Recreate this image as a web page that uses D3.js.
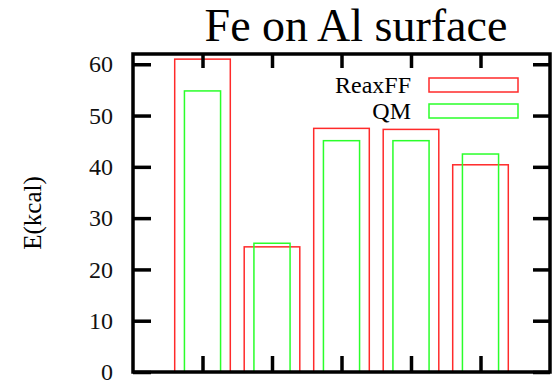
<!DOCTYPE html>
<html>
<head>
<meta charset="utf-8">
<script src="https://cdn.jsdelivr.net/npm/d3@7"></script>
<style>
  body { margin: 0; background: #fff; }
  text { font-family: "Liberation Serif", "Times New Roman", serif; }
</style>
</head>
<body>
<div class="container"></div>
<script>
// Chart data
const categories = [1, 2, 3, 4, 5];
const reaxff = [61.0, 24.4, 47.5, 47.3, 40.4];
const qm = [54.8, 25.1, 45.1, 45.1, 42.5];
const yTicks = [0, 10, 20, 30, 40, 50, 60];
const seriesNames = ["ReaxFF", "QM"];
const seriesColors = ["#ff2a2a", "#2aff2a"];

const width = 558;
const height = 389;

const svg = d3.select(".container").append("svg")
    .attr("width", width)
    .attr("height", height);

// scales
const x = d3.scaleLinear().domain([0, 6]).range([133, 550]);
const y = d3.scaleLinear().domain([0, 62]).range([372, 54]);

// title
svg.append("text")
    .attr("x", 356)
    .attr("y", 41)
    .attr("text-anchor", "middle")
    .attr("font-size", 46)
    .text("Fe on Al surface");

// bars: red (wide) then green (narrow)
const bars = [
  { values: reaxff, w: 0.8, color: seriesColors[0] },
  { values: qm, w: 0.52, color: seriesColors[1] }
];
bars.forEach(function(s) {
  svg.append("g").selectAll("rect")
    .data(categories)
    .enter().append("rect")
      .attr("x", (d) => x(d - s.w / 2))
      .attr("width", x(s.w) - x(0))
      .attr("y", (d, i) => y(s.values[i]))
      .attr("height", (d, i) => y(0) - y(s.values[i]))
      .attr("fill", "none")
      .attr("stroke", s.color)
      .attr("stroke-width", 1.5);
});

// axes with inward ticks
const axLeft = svg.append("g")
    .attr("transform", `translate(${x(0)},0)`)
    .call(d3.axisLeft(y).tickValues(yTicks).tickSizeInner(-18).tickSizeOuter(0).tickPadding(20));
const axRight = svg.append("g")
    .attr("transform", `translate(${x(6)},0)`)
    .call(d3.axisRight(y).tickValues(yTicks).tickSizeInner(-17).tickSizeOuter(0).tickFormat(""));
const axBottom = svg.append("g")
    .attr("transform", `translate(0,${y(0)})`)
    .call(d3.axisBottom(x).tickValues(categories).tickSizeInner(-16).tickSizeOuter(0).tickFormat(""));
const axTop = svg.append("g")
    .attr("transform", `translate(0,${y.range()[1]})`)
    .call(d3.axisTop(x).tickValues(categories).tickSizeInner(-14).tickSizeOuter(0).tickFormat(""));

[axLeft, axRight, axBottom, axTop].forEach(function(g) {
  g.select(".domain").remove();
  g.selectAll(".tick line").attr("stroke", "#000").attr("stroke-width", 3.5);
});
axLeft.selectAll(".tick text")
    .attr("font-size", 24)
    .attr("font-family", "Liberation Serif")
    .attr("fill", "#111");

// frame
svg.append("rect")
    .attr("x", x(0))
    .attr("y", y.range()[1])
    .attr("width", x(6) - x(0))
    .attr("height", y(0) - y.range()[1])
    .attr("fill", "none")
    .attr("stroke", "#000")
    .attr("stroke-width", 3.5);

// y label
svg.append("text")
    .attr("transform", "translate(41,213) rotate(-90)")
    .attr("text-anchor", "middle")
    .attr("font-size", 25)
    .text("E(kcal)");

// legend
const legend = svg.append("g").attr("class", "legend");
seriesNames.forEach(function(name, i) {
  const yy = 85 + i * 26;
  legend.append("text")
      .attr("x", 411)
      .attr("y", yy + 8)
      .attr("text-anchor", "end")
      .attr("font-size", 24)
      .text(name);
  legend.append("rect")
      .attr("x", 429)
      .attr("y", yy - 7)
      .attr("width", 89)
      .attr("height", 14)
      .attr("fill", "none")
      .attr("stroke", seriesColors[i])
      .attr("stroke-width", 1.5);
});
</script>
</body>
</html>
